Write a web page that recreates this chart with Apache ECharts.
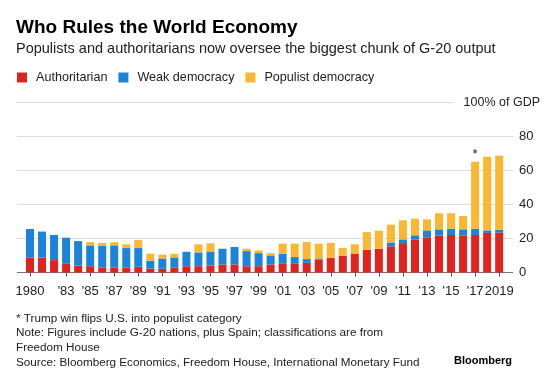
<!DOCTYPE html>
<html>
<head>
<meta charset="utf-8">
<script src="https://cdn.jsdelivr.net/npm/echarts@6/dist/echarts.min.js"></script>
<style>
html,body{margin:0;padding:0;background:#fff;}
#chart{width:560px;height:375px;}
</style>
</head>
<body>
<div id="chart"></div>
<script>
const years = [];
for (let y = 1980; y <= 2019; y++) years.push(String(y));
const authoritarian = [8.7,8.7,7.3,5.1,4.1,3.7,2.8,2.8,2.8,3.4,2.3,2.2,2.8,3.7,3.7,4.1,4.7,4.7,3.7,3.7,4.7,5.1,5.1,5.7,7.7,8.7,9.9,11.2,13.4,14.0,15.4,17.3,19.3,20.7,21.7,22.1,21.7,22.1,23.3,23.6];
const weak = [16.9,15.4,14.8,15.4,14.4,12.3,12.8,13.2,11.6,11.0,4.7,6.1,6.1,8.5,8.1,8.3,9.3,10.3,8.9,7.7,5.4,5.9,4.0,2.2,0.6,0,0,0,0,0,2.3,2.2,2.6,4.1,3.7,3.7,3.7,3.7,1.5,1.6];
const populist = [0,0,0,0,0,1.9,1.8,1.9,2.2,4.7,4.1,2.2,2.1,0,4.8,4.8,0,0,1.4,1.6,1.3,6.0,7.9,10.0,8.7,8.7,4.5,5.4,10.4,10.6,10.5,11.2,9.8,6.5,9.5,9.1,7.9,39.4,43.4,43.6];
const tickLabels = {"1980":"1980","1983":"'83","1985":"'85","1987":"'87","1989":"'89","1991":"'91","1993":"'93","1995":"'95","1997":"'97","1999":"'99","2001":"'01","2003":"'03","2005":"'05","2007":"'07","2009":"'09","2011":"'11","2013":"'13","2015":"'15","2017":"'17","2019":"2019"};
const yTicks = [0,20,40,60,80,100];
const starYear = "2017";

const FONT = '"Liberation Sans", Arial, sans-serif';
const RED = '#df231f', BLUE = '#1b84d8', YELLOW = '#fcb732';

const chart = echarts.init(document.getElementById('chart'), null, {renderer:'canvas'});
const labelled = (i) => tickLabels[years[i]] !== undefined;

chart.setOption({
  animation: false,
  backgroundColor: '#fff',
  textStyle: {fontFamily: FONT},
  title: [
    {text: 'Who Rules the World Economy', left: 11, top: 13,
     textStyle: {fontFamily: FONT, fontSize: 19, fontWeight: 'bold', color: '#000'}},
    {text: 'Populists and authoritarians now oversee the biggest chunk of G-20 output', left: 11, top: 36,
     textStyle: {fontFamily: FONT, fontSize: 14.5, fontWeight: 'normal', color: '#222'}}
  ],
  legend: {
    left: 12, top: 66, itemWidth: 10, itemHeight: 10, itemGap: 11, icon: 'rect',
    data: ['Authoritarian','Weak democracy','Populist democracy'],
    textStyle: {fontFamily: FONT, fontSize: 12.6, color: '#222', padding: [0,0,0,4]}
  },
  graphic: [
    {type: 'text', left: 16, top: 311, style: {
      text: '* Trump win flips U.S. into populist category\nNote: Figures include G-20 nations, plus Spain; classifications are from\nFreedom House\nSource: Bloomberg Economics, Freedom House, International Monetary Fund',
      font: '11.7px "Liberation Sans", Arial, sans-serif', fill: '#222', lineHeight: 14.7}},
    {type: 'text', right: 48, top: 355, style: {
      text: 'Bloomberg', font: 'bold 11px "Liberation Sans", Arial, sans-serif', fill: '#000'}}
  ],
  grid: [
    {left: 24, right: 54.8, top: 102.7, bottom: 102.5},
    {left: 17, right: 47, top: 102.7, bottom: 102.5}
  ],
  xAxis: [
    {type: 'category', gridIndex: 0, data: years, boundaryGap: true,
     axisLine: {show: false},
     axisTick: {show: true, alignWithLabel: true, length: 4, interval: (i) => labelled(i), lineStyle: {color: '#555'}},
     axisLabel: {interval: (i) => labelled(i), formatter: (v) => tickLabels[v] || '', margin: 12,
       fontFamily: FONT, fontSize: 13, color: '#222'},
     splitLine: {show: false}},
    {type: 'value', gridIndex: 1, min: 0, max: 1, show: false}
  ],
  yAxis: [
    {type: 'value', gridIndex: 0, min: 0, max: 100, interval: 20, show: false, splitLine: {show: false}},
    {type: 'value', gridIndex: 1, min: 0, max: 100, interval: 20, position: 'right',
     axisLine: {show: false}, axisTick: {show: false},
     axisLabel: {margin: 6, fontFamily: FONT, fontSize: 13, color: '#222',
       formatter: (v) => v < 100 ? String(v) : ''},
     splitLine: {show: true, lineStyle: {color: ['#777','#dcdcdc','#dcdcdc','#dcdcdc','#dcdcdc','#dcdcdc'], width: 1}}},
    {type: 'value', gridIndex: 1, min: 0, max: 100, interval: 20, position: 'right',
     axisLine: {show: false}, axisTick: {show: false}, splitLine: {show: false},
     axisLabel: {margin: 27, align: 'right', fontFamily: FONT, fontSize: 12.5, color: '#222',
       formatter: (v) => v === 100 ? '{w|100% of GDP}' : '',
       rich: {w: {fontFamily: FONT, fontSize: 12.5, color: '#222', backgroundColor: '#fff', padding: [3,0,3,10]}}}}
  ],
  series: [
    {name: 'Authoritarian', type: 'bar', stack: 'g', xAxisIndex: 0, yAxisIndex: 0, barWidth: 8,
     itemStyle: {color: RED}, data: authoritarian},
    {name: 'Weak democracy', type: 'bar', stack: 'g', xAxisIndex: 0, yAxisIndex: 0, barWidth: 8,
     itemStyle: {color: BLUE}, data: weak},
    {name: 'Populist democracy', type: 'bar', stack: 'g', xAxisIndex: 0, yAxisIndex: 0, barWidth: 8,
     itemStyle: {color: YELLOW},
     data: populist.map((v, i) => years[i] === starYear
       ? {value: v, label: {show: true, position: 'top', distance: 1, formatter: '*', fontFamily: FONT, fontSize: 13, color: '#222'}}
       : v)}
  ]
});
</script>
</body>
</html>
